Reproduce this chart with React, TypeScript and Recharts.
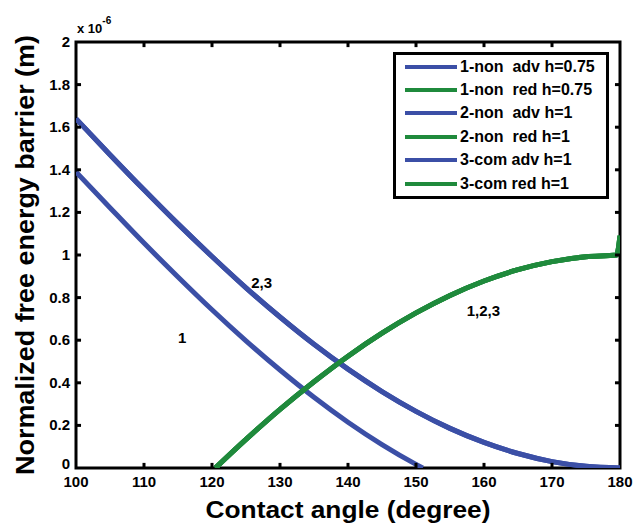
import React from "react"
import { LineChart, Line, XAxis, YAxis, Legend, Label, ReferenceDot, ReferenceArea, ReferenceLine } from "recharts"

const BLUE = "#3b4fa6"
const GREEN = "#1f8a3c"
const FONT = "'Liberation Sans', Arial, sans-serif"

// contact angle (degree) vs normalized free energy barrier (x 1e-6 m)
const adv1Angles = [100, 105, 110, 115, 120, 125, 130, 135, 140, 145, 150, 151]
const adv1Values = [1.39, 1.222, 1.056, 0.897, 0.743, 0.597, 0.46, 0.332, 0.215, 0.11, 0.017, 0]

const adv23Angles = [100, 105, 110, 115, 120, 125, 130, 135, 140, 145, 150, 155, 160, 165, 170, 175, 180]
const adv23Values = [1.64, 1.471, 1.306, 1.146, 0.993, 0.846, 0.709, 0.581, 0.464, 0.359, 0.266, 0.186, 0.12, 0.068, 0.03, 0.008, 0]

const redAngles = [120.5, 125, 130, 135, 140, 145, 150, 155, 160, 165, 170, 175, 179.5, 180]
const redValues = [0, 0.134, 0.275, 0.405, 0.525, 0.633, 0.728, 0.81, 0.878, 0.931, 0.969, 0.992, 1.0, 1.09]

const xTicks = [100, 110, 120, 130, 140, 150, 160, 170, 180]
const yTicks = [0, 0.2, 0.4, 0.6, 0.8, 1, 1.2, 1.4, 1.6, 1.8, 2]

const seriesNames = [
  "1-non  adv h=0.75",
  "1-non  red h=0.75",
  "2-non  adv h=1",
  "2-non  red h=1",
  "3-com adv h=1",
  "3-com red h=1",
]

// curve labels: text, angle, value
const notes = [
  { text: "1", a: 115.6, v: 0.61 },
  { text: "2,3", a: 127.3, v: 0.87 },
  { text: "1,2,3", a: 159.9, v: 0.737 },
]

const X_MIN = 100
const X_MAX = 180
const Y_MIN = 0
const Y_MAX = 2
// inward tick length, in axis units (about 5px)
const TICK_X = 0.74
const TICK_Y = 0.024

const toRows = (xs: number[], ys: number[]) => xs.map((a, i) => ({ a, v: ys[i] }))
const adv1 = toRows(adv1Angles, adv1Values)
const adv23 = toRows(adv23Angles, adv23Values)
const red = toRows(redAngles, redValues)

const series = [
  { name: seriesNames[0], data: adv1, color: BLUE },
  { name: seriesNames[1], data: red, color: GREEN },
  { name: seriesNames[2], data: adv23, color: BLUE },
  { name: seriesNames[3], data: red, color: GREEN },
  { name: seriesNames[4], data: adv23, color: BLUE },
  { name: seriesNames[5], data: red, color: GREEN },
]

const innerX = xTicks.slice(1, -1)
const innerY = yTicks.slice(1, -1)

const BottomTick = ({ x, y, payload }: any) => (
  <text x={x} y={y + 19} textAnchor="middle" fontSize={15} fontWeight="bold" fill="#000">
    {payload.value}
  </text>
)

// the bottom "0" sits a little higher so it clears the "100" below it
const LeftTick = ({ x, y, payload }: any) => (
  <text x={x - 6} y={payload.value === 0 ? y + 1 : y + 5} textAnchor="end" fontSize={15} fontWeight="bold" fill="#000">
    {String(payload.value)}
  </text>
)

const LegendBox = () => (
  <div
    style={{
      width: 216,
      height: 147,
      border: "3px solid #000",
      boxSizing: "border-box",
      background: "#fff",
      fontFamily: FONT,
    }}
  >
    {series.map((s) => (
      <div key={s.name} style={{ display: "flex", alignItems: "center", height: 23.4 }}>
        <div style={{ marginLeft: 9, width: 52, height: 4, background: s.color }} />
        <span style={{ marginLeft: 3, fontSize: 16, fontWeight: "bold", whiteSpace: "pre", lineHeight: 1 }}>
          {s.name}
        </span>
      </div>
    ))}
  </div>
)

const tickStyle = { stroke: "#000", strokeWidth: 3 }

export default function App() {
  return (
    <div style={{ position: "absolute", left: 0, top: 0, background: "#fff", fontFamily: FONT }}>
      <LineChart width={635} height={523} margin={{ top: 42, right: 15, bottom: 25, left: 36 }}>
        <XAxis
          dataKey="a"
          type="number"
          domain={[X_MIN, X_MAX]}
          ticks={xTicks}
          interval={0}
          allowDataOverflow
          height={30}
          tickSize={0}
          tickMargin={0}
          tickLine={false}
          axisLine={false}
          tick={(p: any) => <BottomTick {...p} />}
        >
          <Label
            content={({ viewBox }: any) => (
              <text
                x={viewBox.x + viewBox.width / 2}
                y={viewBox.y + 50}
                textAnchor="middle"
                fontSize={24}
                fontWeight="bold"
                textLength={285}
                lengthAdjust="spacingAndGlyphs"
                fill="#000"
              >
                Contact angle (degree)
              </text>
            )}
          />
        </XAxis>
        <YAxis
          type="number"
          domain={[Y_MIN, Y_MAX]}
          ticks={yTicks}
          interval={0}
          allowDataOverflow
          width={40}
          tickSize={0}
          tickMargin={0}
          tickLine={false}
          axisLine={false}
          tick={(p: any) => <LeftTick {...p} />}
        >
          <Label
            content={({ viewBox }: any) => {
              const cx = viewBox.x - 2
              const cy = viewBox.y + viewBox.height / 2
              return (
                <g>
                  <text
                    x={cx}
                    y={cy}
                    transform={`rotate(-90 ${cx} ${cy})`}
                    textAnchor="middle"
                    fontSize={25}
                    fontWeight="bold"
                    textLength={440}
                    lengthAdjust="spacingAndGlyphs"
                    fill="#000"
                  >
                    Normalized free energy barrier (m)
                  </text>
                  <text x={viewBox.x + viewBox.width + 1} y={viewBox.y - 9} fontSize={13} fontWeight="bold" fill="#000">
                    x 10
                    <tspan dy={-9} fontSize={10}>-6</tspan>
                  </text>
                </g>
              )
            }}
          />
        </YAxis>
        {series.map((s) => (
          <Line
            key={s.name}
            name={s.name}
            data={s.data}
            dataKey="v"
            type="monotone"
            stroke={s.color}
            strokeWidth={5}
            dot={false}
            activeDot={false}
            isAnimationActive={false}
          />
        ))}
        {innerX.map((t) => (
          <ReferenceLine key={`b${t}`} segment={[{ x: t, y: Y_MIN }, { x: t, y: Y_MIN + TICK_Y }]} {...tickStyle} />
        ))}
        {innerX.map((t) => (
          <ReferenceLine key={`t${t}`} segment={[{ x: t, y: Y_MAX }, { x: t, y: Y_MAX - TICK_Y }]} {...tickStyle} />
        ))}
        {innerY.map((t) => (
          <ReferenceLine key={`l${t}`} segment={[{ x: X_MIN, y: t }, { x: X_MIN + TICK_X, y: t }]} {...tickStyle} />
        ))}
        {innerY.map((t) => (
          <ReferenceLine key={`r${t}`} segment={[{ x: X_MAX, y: t }, { x: X_MAX - TICK_X, y: t }]} {...tickStyle} />
        ))}
        <ReferenceArea x1={X_MIN} x2={X_MAX} y1={Y_MIN} y2={Y_MAX} fill="none" fillOpacity={0} stroke="#000" strokeWidth={3} />
        {notes.map((n) => (
          <ReferenceDot
            key={n.text}
            x={n.a}
            y={n.v}
            r={0}
            fill="none"
            stroke="none"
            label={{ value: n.text, position: "center", fontSize: 15, fontWeight: "bold", fill: "#000" }}
          />
        ))}
        <Legend
          layout="horizontal"
          verticalAlign="middle"
          align="center"
          content={() => <LegendBox />}
          wrapperStyle={{ left: 393, top: 52, width: 216, height: 147 }}
        />
      </LineChart>
    </div>
  )
}
